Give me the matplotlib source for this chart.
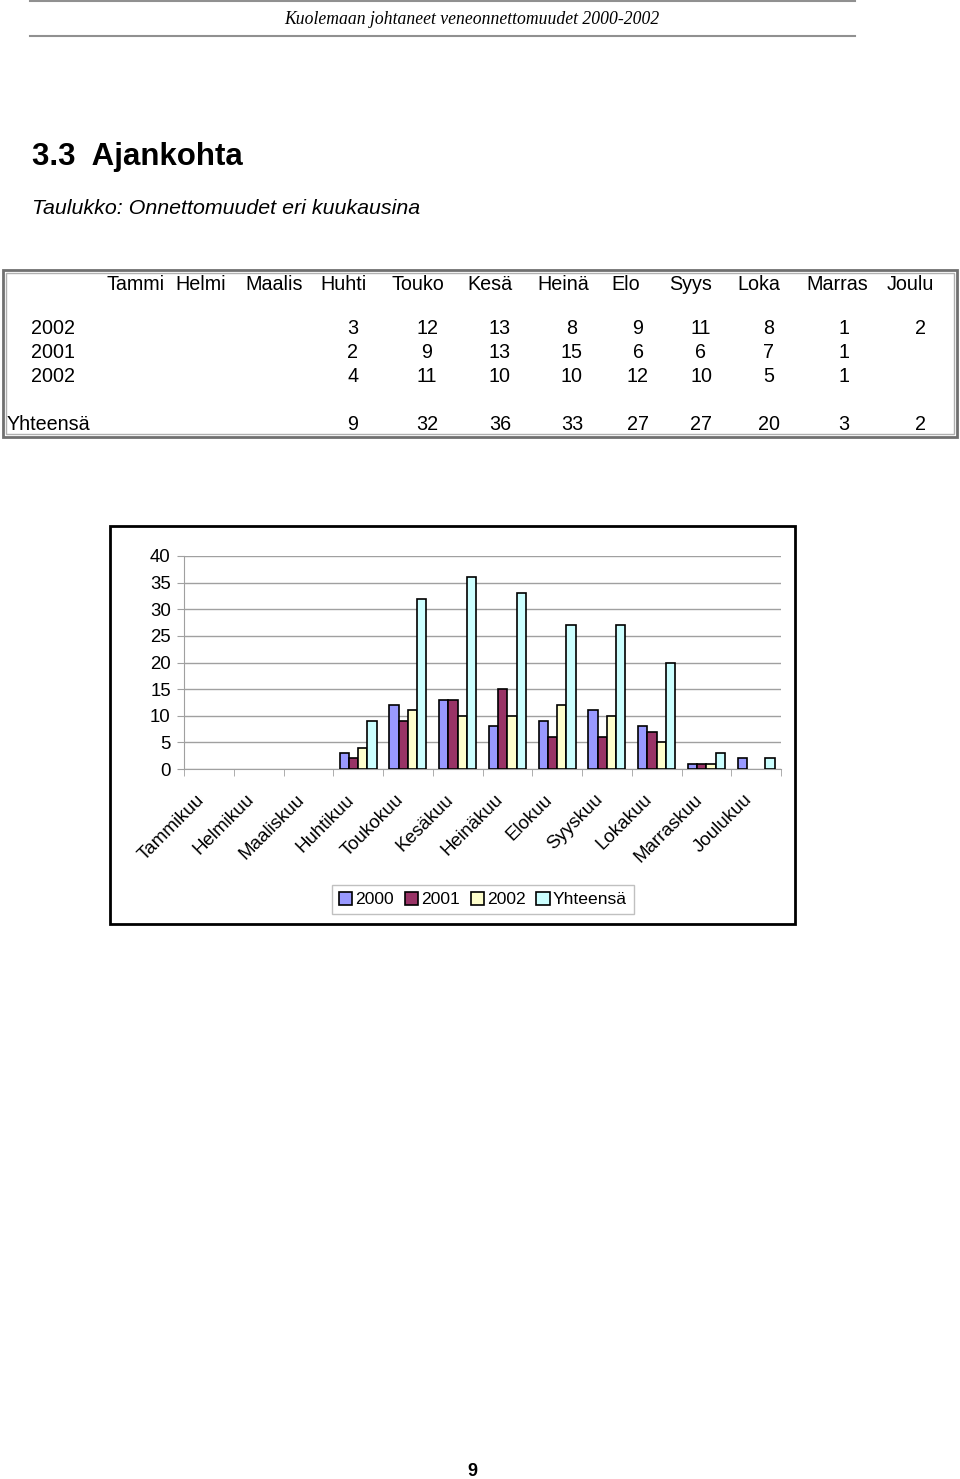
import numpy as np
import matplotlib
matplotlib.use("Agg")
import matplotlib.pyplot as plt
from matplotlib.patches import Rectangle
from matplotlib.transforms import ScaledTranslation

W, H = 960, 1479
plt.rcParams['font.family'] = ['Liberation Sans', 'DejaVu Sans']

# taulukon data
months_short = ['Tammi', 'Helmi', 'Maalis', 'Huhti', 'Touko', 'Kesä',
                'Heinä', 'Elo', 'Syys', 'Loka', 'Marras', 'Joulu']
months_long = ['Tammikuu', 'Helmikuu', 'Maaliskuu', 'Huhtikuu', 'Toukokuu',
               'Kesäkuu', 'Heinäkuu', 'Elokuu', 'Syyskuu', 'Lokakuu',
               'Marraskuu', 'Joulukuu']
row_labels = ['2002', '2001', '2002']   # sama kuin alkuperäisessä
y2000 = [None, None, None, 3, 12, 13, 8, 9, 11, 8, 1, 2]
y2001 = [None, None, None, 2, 9, 13, 15, 6, 6, 7, 1, None]
y2002 = [None, None, None, 4, 11, 10, 10, 12, 10, 5, 1, None]
total = [None, None, None, 9, 32, 36, 33, 27, 27, 20, 3, 2]

series_names = ['2000', '2001', '2002', 'Yhteensä']
series_colors = ['#9999FF', '#993366', '#FFFFCC', '#CCFFFF']

fig = plt.figure(figsize=(W / 100, H / 100), dpi=100)

# sivupohja pikselikoordinaateissa
page = fig.add_axes([0, 0, 1, 1])
page.set_xlim(0, W)
page.set_ylim(H, 0)
page.axis('off')

page.plot([30, 855], [1, 1], color='#909090', lw=1.5)
page.plot([30, 855], [36, 36], color='#909090', lw=1.5)
page.text(472, 19, 'Kuolemaan johtaneet veneonnettomuudet 2000-2002',
          family='Liberation Serif', style='italic', fontsize=12.7,
          ha='center', va='center')

page.text(32, 157, '3.3  Ajankohta', fontsize=22.5, weight='bold', va='center')
page.text(32, 209, 'Taulukko: Onnettomuudet eri kuukausina', fontsize=15.4,
          style='italic', va='center')

# taulukon kehys
page.add_patch(Rectangle((3, 270), 954, 167, fill=False, ec='#707070', lw=2))
page.add_patch(Rectangle((6, 273), 948, 161, fill=False, ec='#b0b0b0', lw=1))

fs = 14.2
head_x = [136, 201, 274, 344, 418, 490, 563, 626, 691, 759, 837, 910]
val_x = [136, 201, 274, 353, 427, 500, 572, 638, 701, 769, 844, 920]
for name, x in zip(months_short, head_x):
    page.text(x, 285, name, fontsize=fs, ha='center', va='center')

rows = [y2000, y2001, y2002]
for lab, vals, y in zip(row_labels, rows, [329, 353, 377]):
    page.text(53, y, lab, fontsize=fs, ha='center', va='center')
    for v, x in zip(vals, val_x):
        if v is not None:
            page.text(x, y, str(v), fontsize=fs, ha='center', va='center')
page.text(7, 424, 'Yhteensä', fontsize=fs, va='center')
for v, x in zip(total, val_x):
    if v is not None:
        page.text(x, 424, str(v), fontsize=fs, ha='center', va='center')

# kaavion kehys
page.add_patch(Rectangle((110, 526), 685, 398, fill=False, ec='black', lw=2))

page.text(472, 1471, '9', fontsize=13, weight='bold', ha='center', va='center')

# pylväskaavio
ax = fig.add_axes([184 / W, 1 - 769 / H, (781 - 184) / W, (769 - 556) / H])
x = np.arange(len(months_long))
bw = 0.185
for k, (vals, name, col) in enumerate(zip([y2000, y2001, y2002, total],
                                          series_names, series_colors)):
    h = np.array([np.nan if v is None else v for v in vals], dtype=float)
    m = ~np.isnan(h)
    ax.bar(x[m] + (k - 1.5) * bw, h[m], width=bw, color=col,
           edgecolor='black', lw=1.2, label=name, zorder=3)

ax.set_xlim(-0.5, 11.5)
ax.set_ylim(0, 40)
ax.set_yticks(range(0, 41, 5))
ax.yaxis.grid(True, color='#a0a0a0', lw=1)
ax.set_axisbelow(True)
for s in ['top', 'right']:
    ax.spines[s].set_visible(False)
for s in ['left', 'bottom']:
    ax.spines[s].set_color('#a0a0a0')
ax.tick_params(axis='y', colors='#a0a0a0', labelcolor='black', labelsize=13.4,
               length=5, pad=4.5)
ax.set_xticks(x)
ax.set_xticklabels(months_long, rotation=45, ha='right',
                   rotation_mode='anchor', fontsize=13.5)
ax.tick_params(axis='x', length=0, pad=16)
ax.set_xticks(np.arange(-0.5, 12, 1), minor=True)
ax.tick_params(axis='x', which='minor', length=5, color='#a0a0a0')
shift = ScaledTranslation(-13 / 100, 0, fig.dpi_scale_trans)
for lab in ax.get_xticklabels():
    lab.set_transform(lab.get_transform() + shift)

ax.legend(loc='center', bbox_to_anchor=(483 / W, 1 - 899.5 / H),
          bbox_transform=fig.transFigure, ncol=4, fontsize=12.6,
          frameon=True, fancybox=False, edgecolor='#c0c0c0', framealpha=1,
          handlelength=0.75, handleheight=0.75, handletextpad=0.2,
          columnspacing=0.6, borderpad=0.4)

fig.savefig('out.png', dpi=100)
